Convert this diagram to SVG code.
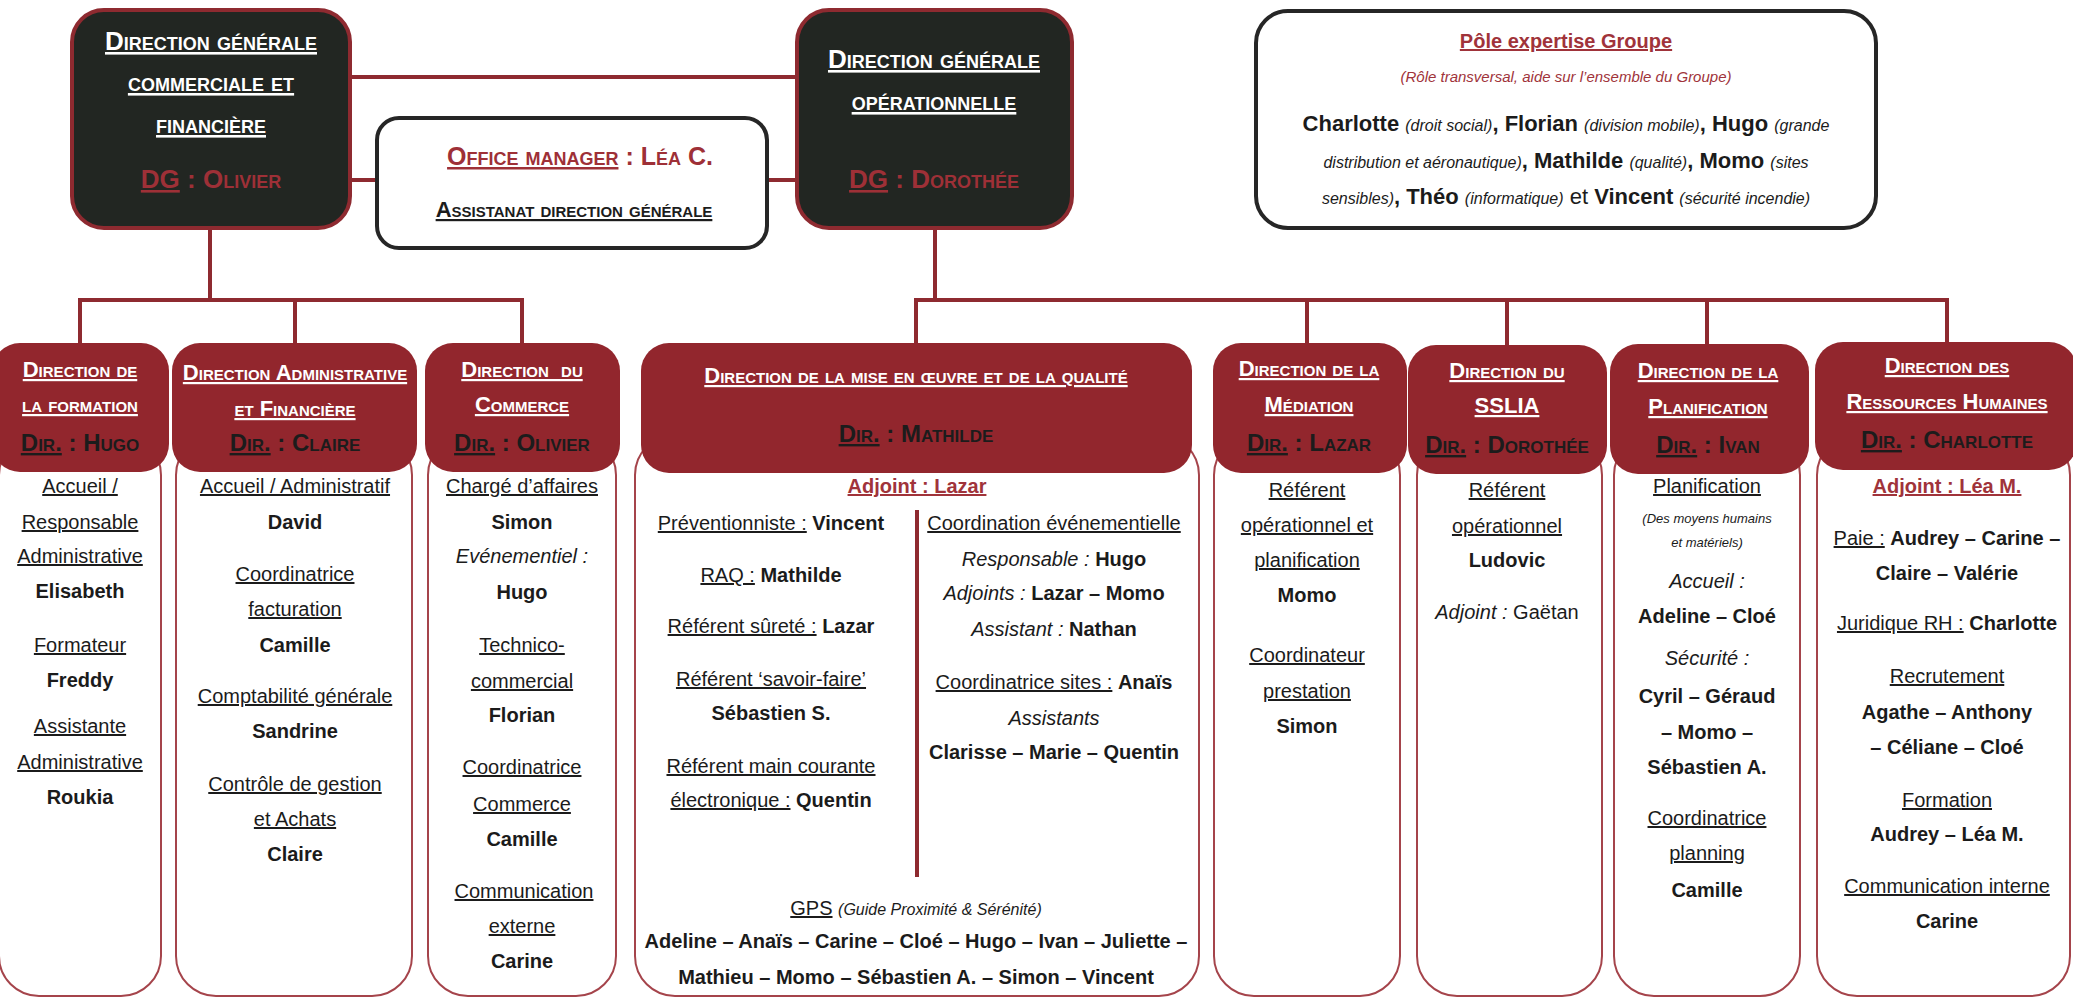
<svg xmlns="http://www.w3.org/2000/svg" width="2073" height="998" viewBox="0 0 2073 998">
<style>
text{font-family:"Liberation Sans",Arial,sans-serif;text-anchor:middle}
.hdr{fill:#92262d}
.body{fill:#fff;stroke:#a5444b;stroke-width:2}
.dark{fill:#222622;stroke:#8e2a30;stroke-width:4}
.wbox{fill:#fff;stroke:#262626;stroke-width:4}
.con{stroke:#8e2a30;stroke-width:4;fill:none}
.sc{font-variant:small-caps;font-weight:bold}
.ht{fill:#fff;font-size:22px;text-decoration:underline}
.hd{fill:#1c1c1c;font-size:24px}
.tt{fill:#fff;font-size:26px;text-decoration:underline}
.tr{fill:#9e3037;font-size:26px}
.n{font-size:20px;fill:#1b1b1b}
.u{text-decoration:underline}
.b{font-weight:bold}
.i{font-style:italic}
.red{fill:#a0333a}
</style>
<g id="connectors">
<line class="con" x1="350" y1="77" x2="797" y2="77"/>
<line class="con" x1="350" y1="180" x2="797" y2="180"/>
<line class="con" x1="210" y1="228" x2="210" y2="300"/>
<line class="con" x1="78" y1="300" x2="524" y2="300"/>
<line class="con" x1="80" y1="300" x2="80" y2="345"/>
<line class="con" x1="295" y1="300" x2="295" y2="345"/>
<line class="con" x1="522" y1="300" x2="522" y2="345"/>
<line class="con" x1="935" y1="228" x2="935" y2="300"/>
<line class="con" x1="914" y1="300" x2="1949" y2="300"/>
<line class="con" x1="916" y1="300" x2="916" y2="345"/>
<line class="con" x1="1307" y1="300" x2="1307" y2="345"/>
<line class="con" x1="1507" y1="300" x2="1507" y2="345"/>
<line class="con" x1="1707" y1="300" x2="1707" y2="345"/>
<line class="con" x1="1947" y1="300" x2="1947" y2="345"/>
</g>
<g id="dg-commerciale">
<rect class="dark" x="72" y="10" width="278" height="218" rx="32"/>
<text class="sc tt" x="211" y="50">Direction générale</text>
<text class="sc tt" x="211" y="91">commerciale et</text>
<text class="sc tt" x="211" y="133">financière</text>
<text class="sc tr" x="211" y="188"><tspan class="u">DG</tspan> : Olivier</text>
</g>
<g id="office-manager">
<rect class="wbox" x="377" y="118" width="390" height="130" rx="22"/>
<text class="sc" x="580" y="165" style="fill:#9e3037;font-size:25px"><tspan class="u">Office manager</tspan> : Léa C.</text>
<text class="sc u" x="574" y="217" style="fill:#1c1c1c;font-size:22px">Assistanat direction générale</text>
</g>
<g id="dg-operationnelle">
<rect class="dark" x="797" y="10" width="275" height="218" rx="32"/>
<text class="sc tt" x="934" y="68">Direction générale</text>
<text class="sc tt" x="934" y="110">opérationnelle</text>
<text class="sc tr" x="934" y="188"><tspan class="u">DG</tspan> : Dorothée</text>
</g>
<g id="pole-expertise">
<rect class="wbox" x="1256" y="11" width="620" height="217" rx="32"/>
<text class="b u red" x="1566" y="48" style="font-size:20px">Pôle expertise Groupe</text>
<text class="i red" x="1566" y="82" style="font-size:15px">(Rôle transversal, aide sur l’ensemble du Groupe)</text>
<text class="n" x="1566" y="131" style="font-size:22px"><tspan class="b">Charlotte</tspan> <tspan class="i" style="font-size:16px">(droit social)</tspan><tspan class="b">, Florian</tspan> <tspan class="i" style="font-size:16px">(division mobile)</tspan><tspan class="b">, Hugo</tspan> <tspan class="i" style="font-size:16px">(grande</tspan></text>
<text class="n" x="1566" y="168" style="font-size:22px"><tspan class="i" style="font-size:16px">distribution et aéronautique)</tspan><tspan class="b">, Mathilde</tspan> <tspan class="i" style="font-size:16px">(qualité)</tspan><tspan class="b">, Momo</tspan> <tspan class="i" style="font-size:16px">(sites</tspan></text>
<text class="n" x="1566" y="204" style="font-size:22px"><tspan class="i" style="font-size:16px">sensibles)</tspan><tspan class="b">, Théo</tspan> <tspan class="i" style="font-size:16px">(informatique)</tspan> et <tspan class="b">Vincent</tspan> <tspan class="i" style="font-size:16px">(sécurité incendie)</tspan></text>
</g>
<g id="dir-formation">
<rect class="body" x="-1" y="435" width="162" height="561" rx="40"/>
<rect class="hdr" x="-8" y="343" width="177" height="129" rx="28"/>
<text class="sc ht" x="80" y="377">Direction de</text>
<text class="sc ht" x="80" y="412">la formation</text>
<text class="sc hd" x="80" y="451"><tspan class="u">Dir.</tspan> : Hugo</text>
<text class="n u" x="80" y="493">Accueil /</text>
<text class="n u" x="80" y="529">Responsable</text>
<text class="n u" x="80" y="563">Administrative</text>
<text class="n b" x="80" y="598">Elisabeth</text>
<text class="n u" x="80" y="652">Formateur</text>
<text class="n b" x="80" y="687">Freddy</text>
<text class="n u" x="80" y="733">Assistante</text>
<text class="n u" x="80" y="769">Administrative</text>
<text class="n b" x="80" y="804">Roukia</text>
</g>
<g id="dir-administrative">
<rect class="body" x="176" y="435" width="236" height="561" rx="40"/>
<rect class="hdr" x="172" y="343" width="245" height="129" rx="28"/>
<text class="sc ht" x="295" y="380">Direction Administrative</text>
<text class="sc ht" x="295" y="416">et Financière</text>
<text class="sc hd" x="295" y="451"><tspan class="u">Dir.</tspan> : Claire</text>
<text class="n u" x="295" y="493">Accueil / Administratif</text>
<text class="n b" x="295" y="529">David</text>
<text class="n u" x="295" y="581">Coordinatrice</text>
<text class="n u" x="295" y="616">facturation</text>
<text class="n b" x="295" y="652">Camille</text>
<text class="n u" x="295" y="703">Comptabilité générale</text>
<text class="n b" x="295" y="738">Sandrine</text>
<text class="n u" x="295" y="791">Contrôle de gestion</text>
<text class="n u" x="295" y="826">et Achats</text>
<text class="n b" x="295" y="861">Claire</text>
</g>
<g id="dir-commerce">
<rect class="body" x="428" y="435" width="188" height="561" rx="40"/>
<rect class="hdr" x="425" y="343" width="195" height="129" rx="28"/>
<text class="sc ht" x="522" y="377">Direction&#160; du</text>
<text class="sc ht" x="522" y="412">Commerce</text>
<text class="sc hd" x="522" y="451"><tspan class="u">Dir.</tspan> : Olivier</text>
<text class="n u" x="522" y="493">Chargé d’affaires</text>
<text class="n b" x="522" y="529">Simon</text>
<text class="n i" x="522" y="563">Evénementiel :</text>
<text class="n b" x="522" y="599">Hugo</text>
<text class="n u" x="522" y="652">Technico-</text>
<text class="n u" x="522" y="688">commercial</text>
<text class="n b" x="522" y="722">Florian</text>
<text class="n u" x="522" y="774">Coordinatrice</text>
<text class="n u" x="522" y="811">Commerce</text>
<text class="n b" x="522" y="846">Camille</text>
<text class="n u" x="524" y="898">Communication</text>
<text class="n u" x="522" y="933">externe</text>
<text class="n b" x="522" y="968">Carine</text>
</g>
<g id="dir-mise-en-oeuvre">
<rect class="body" x="635" y="435" width="564" height="561" rx="40"/>
<rect class="hdr" x="641" y="343" width="551" height="130" rx="28"/>
<text class="sc ht" x="916" y="383">Direction de la mise en œuvre et de la qualité</text>
<text class="sc hd" x="916" y="442"><tspan class="u">Dir.</tspan> : Mathilde</text>
<text class="n b u red" x="917" y="493">Adjoint : Lazar</text>
<line class="con" x1="917" y1="510" x2="917" y2="877"/>
<text class="n" x="771" y="530"><tspan class="u">Préventionniste :</tspan> <tspan class="b">Vincent</tspan></text>
<text class="n" x="771" y="582"><tspan class="u">RAQ :</tspan> <tspan class="b">Mathilde</tspan></text>
<text class="n" x="771" y="633"><tspan class="u">Référent sûreté :</tspan> <tspan class="b">Lazar</tspan></text>
<text class="n u" x="771" y="686">Référent ‘savoir-faire’</text>
<text class="n b" x="771" y="720">Sébastien S.</text>
<text class="n u" x="771" y="773">Référent main courante</text>
<text class="n" x="771" y="807"><tspan class="u">électronique :</tspan> <tspan class="b">Quentin</tspan></text>
<text class="n u" x="1054" y="530">Coordination événementielle</text>
<text class="n" x="1054" y="566"><tspan class="i">Responsable :</tspan> <tspan class="b">Hugo</tspan></text>
<text class="n" x="1054" y="600"><tspan class="i">Adjoints :</tspan> <tspan class="b">Lazar – Momo</tspan></text>
<text class="n" x="1054" y="636"><tspan class="i">Assistant :</tspan> <tspan class="b">Nathan</tspan></text>
<text class="n" x="1054" y="689"><tspan class="u">Coordinatrice sites :</tspan> <tspan class="b">Anaïs</tspan></text>
<text class="n i" x="1054" y="725">Assistants</text>
<text class="n b" x="1054" y="759">Clarisse – Marie – Quentin</text>
<text class="n" x="916" y="915"><tspan class="u">GPS</tspan> <tspan class="i" style="font-size:16px">(Guide Proximité &amp; Sérénité)</tspan></text>
<text class="n b" x="916" y="948">Adeline – Anaïs – Carine – Cloé – Hugo – Ivan – Juliette –</text>
<text class="n b" x="916" y="984">Mathieu – Momo – Sébastien A. – Simon – Vincent</text>
</g>
<g id="dir-mediation">
<rect class="body" x="1214" y="435" width="186" height="561" rx="40"/>
<rect class="hdr" x="1213" y="343" width="194" height="130" rx="28"/>
<text class="sc ht" x="1309" y="376">Direction de la</text>
<text class="sc ht" x="1309" y="412">Médiation</text>
<text class="sc hd" x="1309" y="451"><tspan class="u">Dir.</tspan> : Lazar</text>
<text class="n u" x="1307" y="497">Référent</text>
<text class="n u" x="1307" y="532">opérationnel et</text>
<text class="n u" x="1307" y="567">planification</text>
<text class="n b" x="1307" y="602">Momo</text>
<text class="n u" x="1307" y="662">Coordinateur</text>
<text class="n u" x="1307" y="698">prestation</text>
<text class="n b" x="1307" y="733">Simon</text>
</g>
<g id="dir-sslia">
<rect class="body" x="1417" y="435" width="185" height="561" rx="40"/>
<rect class="hdr" x="1408" y="345" width="199" height="129" rx="28"/>
<text class="sc ht" x="1507" y="378">Direction du</text>
<text class="sc ht" x="1507" y="413">SSLIA</text>
<text class="sc hd" x="1507" y="453"><tspan class="u">Dir.</tspan> : Dorothée</text>
<text class="n u" x="1507" y="497">Référent</text>
<text class="n u" x="1507" y="533">opérationnel</text>
<text class="n b" x="1507" y="567">Ludovic</text>
<text class="n" x="1507" y="619"><tspan class="i">Adjoint :</tspan> Gaëtan</text>
</g>
<g id="dir-planification">
<rect class="body" x="1614" y="435" width="186" height="561" rx="40"/>
<rect class="hdr" x="1610" y="344" width="199" height="130" rx="28"/>
<text class="sc ht" x="1708" y="378">Direction de la</text>
<text class="sc ht" x="1708" y="414">Planification</text>
<text class="sc hd" x="1708" y="453"><tspan class="u">Dir.</tspan> : Ivan</text>
<text class="n u" x="1707" y="493">Planification</text>
<text class="n i" x="1707" y="523" style="font-size:13px">(Des moyens humains</text>
<text class="n i" x="1707" y="547" style="font-size:13px">et matériels)</text>
<text class="n i" x="1707" y="588">Accueil :</text>
<text class="n b" x="1707" y="623">Adeline – Cloé</text>
<text class="n i" x="1707" y="665">Sécurité :</text>
<text class="n b" x="1707" y="703">Cyril – Géraud</text>
<text class="n b" x="1707" y="739">– Momo –</text>
<text class="n b" x="1707" y="774">Sébastien A.</text>
<text class="n u" x="1707" y="825">Coordinatrice</text>
<text class="n u" x="1707" y="860">planning</text>
<text class="n b" x="1707" y="897">Camille</text>
</g>
<g id="dir-rh">
<rect class="body" x="1817" y="435" width="253" height="561" rx="40"/>
<rect class="hdr" x="1815" y="342" width="262" height="128" rx="28"/>
<text class="sc ht" x="1947" y="373">Direction des</text>
<text class="sc ht" x="1947" y="409">Ressources Humaines</text>
<text class="sc hd" x="1947" y="448"><tspan class="u">Dir.</tspan> : Charlotte</text>
<text class="n b u red" x="1947" y="493">Adjoint : Léa M.</text>
<text class="n" x="1947" y="545"><tspan class="u">Paie :</tspan> <tspan class="b">Audrey – Carine –</tspan></text>
<text class="n b" x="1947" y="580">Claire – Valérie</text>
<text class="n" x="1947" y="630"><tspan class="u">Juridique RH :</tspan> <tspan class="b">Charlotte</tspan></text>
<text class="n u" x="1947" y="683">Recrutement</text>
<text class="n b" x="1947" y="719">Agathe – Anthony</text>
<text class="n b" x="1947" y="754">– Céliane – Cloé</text>
<text class="n u" x="1947" y="807">Formation</text>
<text class="n b" x="1947" y="841">Audrey – Léa M.</text>
<text class="n u" x="1947" y="893">Communication interne</text>
<text class="n b" x="1947" y="928">Carine</text>
</g>
</svg>
